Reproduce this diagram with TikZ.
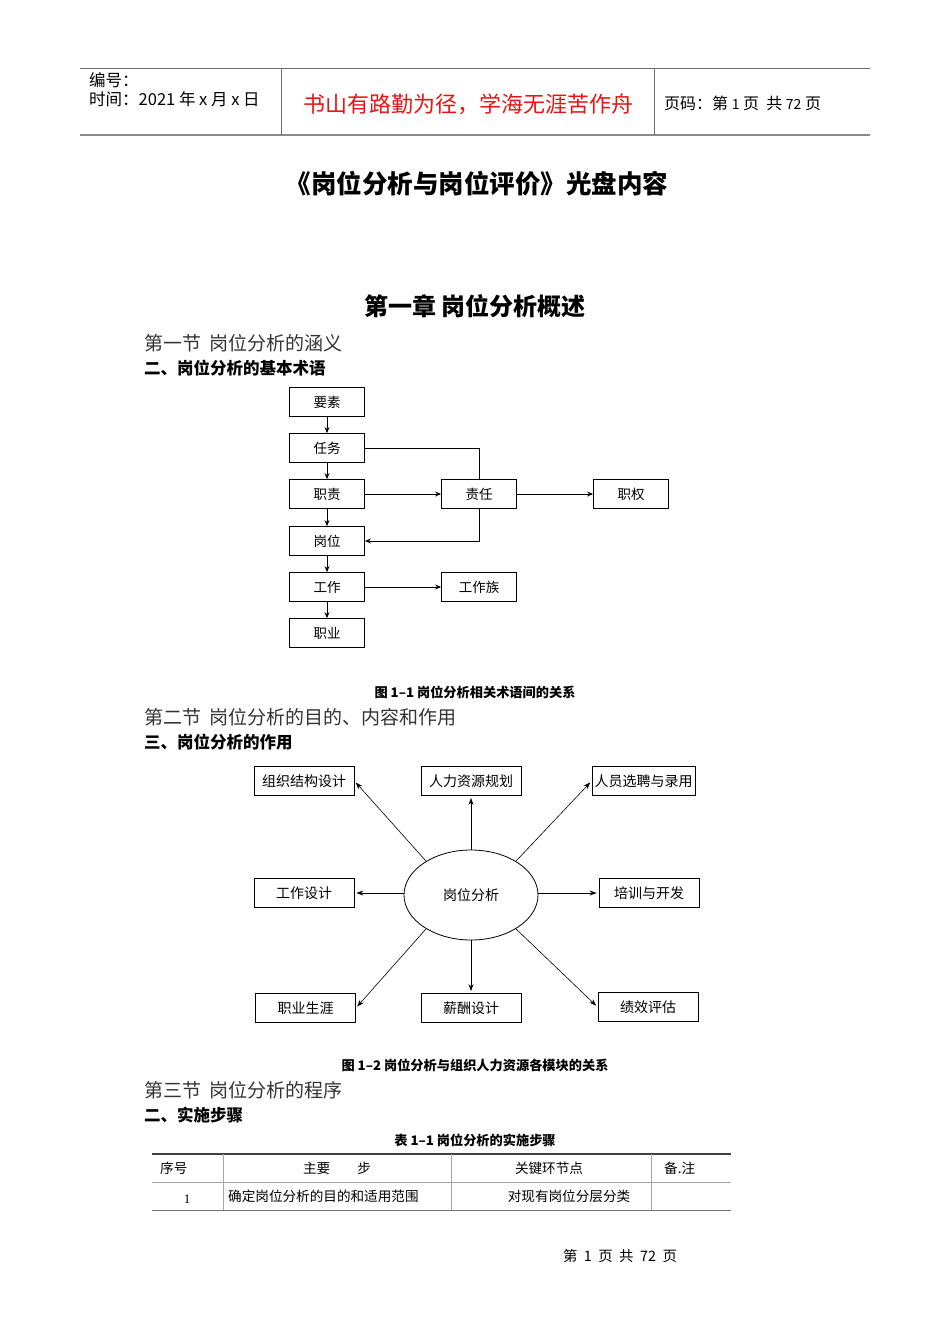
\documentclass[tikz,border=0pt]{standalone}
\usepackage{fontspec}
\setmainfont{Noto Sans CJK SC}
\newfontfamily\serifnum{Liberation Serif}
\usetikzlibrary{arrows.meta,shapes.geometric}
\definecolor{redtext}{RGB}{230,20,20}
\definecolor{linegray}{RGB}{110,110,110}
\tikzset{
  txt/.style={inner sep=0pt, anchor=west},
  ctxt/.style={inner sep=0pt, anchor=center},
  boxa/.style={draw, line width=0.8pt, minimum width=75pt, minimum height=29pt, inner sep=0pt, font=\fontsize{13.5}{13.5}\selectfont},
  boxb/.style={draw, line width=0.8pt, minimum width=100pt, minimum height=29pt, inner sep=0pt, font=\fontsize{14}{14}\selectfont},
  arr/.style={-{Stealth[length=6pt,width=5pt]}, line width=0.8pt},
  arrb/.style={-{Stealth[length=7pt,width=5pt]}, line width=0.6pt, shorten >=2pt},
  conn/.style={line width=0.8pt},
  sect/.style={txt, font=\fontsize{19}{19}\selectfont, text=black!80},
  head/.style={txt, font=\fontsize{16.5}{16.5}\selectfont\bfseries},
  capt/.style={ctxt, font=\fontsize{13.2}{13.2}\selectfont\bfseries},
  tab/.style={inner sep=0pt, font=\fontsize{13.6}{13.6}\selectfont}
}
\begin{document}
\begin{tikzpicture}[x=1pt,y=-1pt]
\useasboundingbox (0,0) rectangle (950,1344);
% header
\draw[linegray, line width=0.9pt] (80,68) -- (870,68);
\draw[linegray!80, line width=1.8pt] (80,135) -- (870,135);
\draw[linegray, line width=0.9pt] (281,68) -- (281,135);
\draw[linegray, line width=0.9pt] (654,68) -- (654,135);
\node[txt, font=\fontsize{16.5}{16.5}\selectfont] (h1) at (89,80) {编号：};
\node[txt, font=\fontsize{16.5}{16.5}\selectfont] (h2) at (89,99) {时间：2021 年 x 月 x 日};
\node[ctxt, text=redtext, font=\fontsize{22}{22}\selectfont] (h3) at (468,104) {书山有路勤为径，学海无涯苦作舟};
\node[txt, font=\fontsize{16}{16}\selectfont] (h4) at (664,103) {页码：第 {\fontsize{14}{14}\selectfont 1} 页\ \ 共 {\fontsize{14}{14}\selectfont 72} 页};
% titles
\node[ctxt, font=\fontsize{25.5}{25.5}\selectfont\bfseries] (t1) at (477,184) {《岗位分析与岗位评价》光盘内容};
\node[ctxt, font=\fontsize{24}{24}\selectfont\bfseries] (t2) at (475,306) {第一章 岗位分析概述};
\node[sect] (s1) at (144,343) {第一节\ \ 岗位分析的涵义};
\node[head] (s2) at (144,368) {二、岗位分析的基本术语};
% diagram 1
\node[boxa] (ys) at (327,402) {要素};
\node[boxa] (rw) at (327,448) {任务};
\node[boxa] (zz) at (327,494) {职责};
\node[boxa] (gw) at (327,541) {岗位};
\node[boxa] (gz) at (327,587) {工作};
\node[boxa] (zy) at (327,633) {职业};
\node[boxa] (zr) at (479,494) {责任};
\node[boxa] (zq) at (631,494) {职权};
\node[boxa] (gzz) at (479,587) {工作族};
\draw[arr] (ys) -- (rw);
\draw[arr] (rw) -- (zz);
\draw[arr] (zz) -- (gw);
\draw[arr] (gw) -- (gz);
\draw[arr] (gz) -- (zy);
\draw[arr] (zz) -- (zr);
\draw[arr] (zr) -- (zq);
\draw[arr] (gz) -- (gzz);
\draw[conn] (rw.east) -| (zr.north);
\draw[arr] (zr.south) |- (gw.east);
\node[capt] (c1) at (475,692) {图 1–1 岗位分析相关术语间的关系};
\node[sect] (s3) at (144,717) {第二节\ \ 岗位分析的目的、内容和作用};
\node[head] (s4) at (144,742) {三、岗位分析的作用};
% diagram 2
\node[draw, ellipse, line width=0.8pt, minimum width=134pt, minimum height=90pt, inner sep=0pt, font=\fontsize{14}{14}\selectfont] (e) at (471,895) {岗位分析};
\node[boxb] (b1) at (304,781) {组织结构设计};
\node[boxb] (b2) at (471,781) {人力资源规划};
\node[boxb, minimum width=103pt] (b3) at (643.5,781) {人员选聘与录用};
\node[boxb] (b4) at (304,893) {工作设计};
\node[boxb] (b5) at (649,893) {培训与开发};
\node[boxb] (b6) at (305.5,1008) {职业生涯};
\node[boxb] (b7) at (471,1008) {薪酬设计};
\node[boxb] (b8) at (648,1007) {绩效评估};
\draw[arrb] (e.143) -- (b1.east);
\draw[arrb] (e.north) -- (b2.south);
\draw[arrb] (e.37) -- (b3.west);
\draw[arrb] (b4.east -| e.west) -- (b4.east);
\draw[arrb] (b5.west -| e.east) -- (b5.west);
\draw[arrb] (e.217) -- (b6.east);
\draw[arrb] (e.south) -- (b7.north);
\draw[arrb] (e.323) -- (b8.west);
\node[capt] (c2) at (475,1065) {图 1–2 岗位分析与组织人力资源各模块的关系};
\node[sect] (s5) at (144,1090) {第三节\ \ 岗位分析的程序};
\node[head] (s6) at (144,1115) {二、实施步骤};
\node[capt] (c3) at (475,1140) {表 1–1 岗位分析的实施步骤};
% table
\draw[black!75, line width=1.4pt] (152,1154) -- (731,1154);
\draw[black!35, line width=0.7pt] (152,1182) -- (731,1182);
\draw[black!55, line width=0.9pt] (152,1210) -- (731,1210);
\foreach \xx in {223,451,651} \draw[black!35, line width=0.7pt] (\xx,1154) -- (\xx,1210);
\node[tab, anchor=west] (r1) at (160,1168) {序号};
\node[tab] (r2) at (337,1168) {主要\qquad 步};
\node[tab] (r3) at (549,1168) {关键环节点};
\node[tab, anchor=west] (r4) at (664,1168) {备.注};
\node[tab, font=\serifnum\fontsize{13}{13}\selectfont] (r5) at (187,1199) {1};
\node[tab, anchor=west] (r6) at (228,1196) {确定岗位分析的目的和适用范围};
\node[tab] (r7) at (569,1196) {对现有岗位分层分类};
% footer
\node[ctxt, font=\fontsize{14.4}{14.4}\selectfont] (f) at (620,1256) {第\ \ 1\ \ 页\ \ 共\ \ 72\ \ 页};
\end{tikzpicture}
\end{document}
